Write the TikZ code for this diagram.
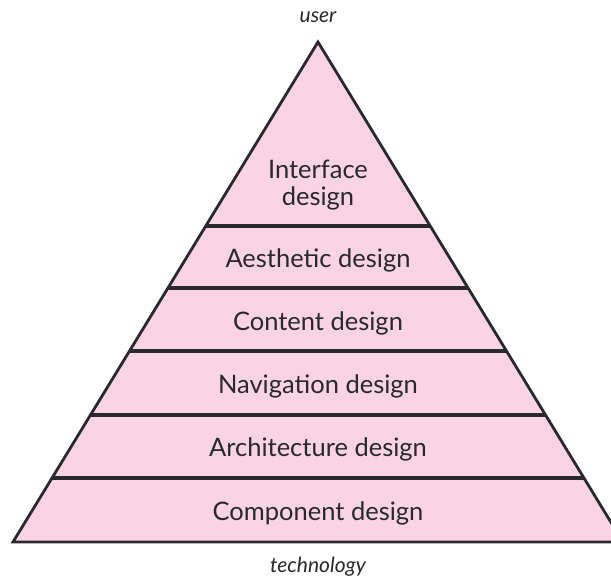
\documentclass[tikz,border=0pt]{standalone}
\usepackage{fontspec}
\setmainfont{Lato}
\usetikzlibrary{calc}
\definecolor{layerpink}{RGB}{250,212,229}
\definecolor{inkgray}{RGB}{40,40,45}

\begin{document}
\begin{tikzpicture}[x=1pt,y=-1pt,
  layer label/.style={text=inkgray,font=\fontsize{25.5}{27}\selectfont,align=center,inner sep=0pt},
  end label/.style={text=inkgray,font=\fontsize{21}{24}\selectfont\itshape,inner sep=0pt},
  divider/.style={line width=4pt,draw=inkgray}]

  \useasboundingbox (0,0) rectangle (611,579);

  \coordinate (apex) at (318,42);
  \coordinate (bl) at (13,542);
  \coordinate (br) at (623,542);

  \fill[layerpink] (apex) -- (bl) -- (br) -- cycle;

  \draw[divider] ($(apex)!0.368!(bl)$) -- ($(apex)!0.368!(br)$);
  \draw[divider] ($(apex)!0.492!(bl)$) -- ($(apex)!0.492!(br)$);
  \draw[divider] ($(apex)!0.618!(bl)$) -- ($(apex)!0.618!(br)$);
  \draw[divider] ($(apex)!0.746!(bl)$) -- ($(apex)!0.746!(br)$);
  \draw[divider] ($(apex)!0.872!(bl)$) -- ($(apex)!0.872!(br)$);

  \draw[line width=2.8pt,draw=inkgray,line join=miter] (apex) -- (bl) -- (br) -- cycle;

  \node[end label] (user) at (318,17) {user};
  \node[end label] (tech) at (318,567) {technology};

  \node[layer label] (interface) at (318,185) {Interface\\design};
  \node[layer label] (aesthetic) at (318,260) {Aesthetic design};
  \node[layer label] (content) at (318,323) {Content design};
  \node[layer label] (navigation) at (318,386) {Navigation design};
  \node[layer label] (architecture) at (318,449) {Architecture design};
  \node[layer label] (component) at (318,513) {Component design};
\end{tikzpicture}
\end{document}
